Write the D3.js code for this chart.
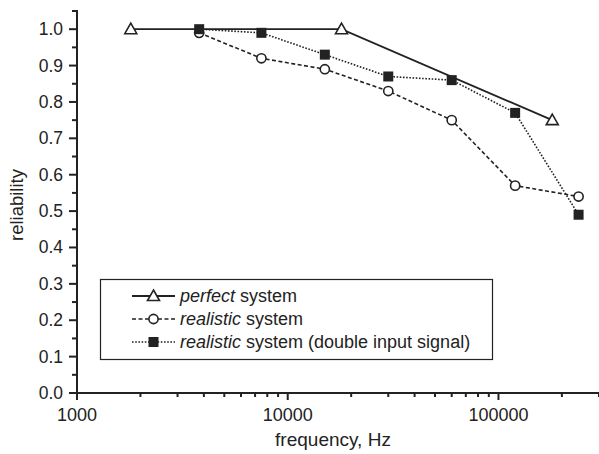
<!DOCTYPE html>
<html>
<head>
<meta charset="utf-8">
<script src="https://cdn.jsdelivr.net/npm/d3@7"></script>
<style>
  body { margin: 0; background: #fff; }
  svg { font-family: "Liberation Sans", Arial, sans-serif; }
</style>
</head>
<body>
<svg id="chart" width="599" height="454"></svg>
<script>
"use strict";

// data
var perfectFreq = [1800, 18000, 180000];
var perfectRel = [1.0, 1.0, 0.75];

var realFreq = [3800, 7500, 15000, 30000, 60000, 120000, 240000];
var realRel = [0.99, 0.92, 0.89, 0.83, 0.75, 0.57, 0.54];

var doubleFreq = [3800, 7500, 15000, 30000, 60000, 120000, 240000];
var doubleRel = [1.0, 0.99, 0.93, 0.87, 0.86, 0.77, 0.49];

var xMajorTicks = [1000, 10000, 100000];
var yMajorTicks = [0.0, 0.1, 0.2, 0.3, 0.4, 0.5, 0.6, 0.7, 0.8, 0.9, 1.0];

var legendLabels = [
    {em: 'perfect', rest: ' system'},
    {em: 'realistic', rest: ' system'},
    {em: 'realistic', rest: ' system (double input signal)'}
];

var ink = '#222';
var svg = d3.select('#chart');

var x = d3.scaleLog().domain([1000, 300000]).range([77, 599]);
var y = d3.scaleLinear().domain([0, 1.05]).range([393, 11]);

// minor ticks
var xMinor = [];
[1000, 10000, 100000].forEach(function(d) {
    for (var k = 2; k <= 9; k++) {
        if (d * k <= 300000) xMinor.push(d * k);
    }
});
var yMinor = d3.range(0, 11).map(function(i) { return i / 10 + 0.05; });

var axes = svg.append('g').attr('stroke', ink).attr('stroke-width', 2);

axes.append('line').attr('x1', 77).attr('x2', 599).attr('y1', 393).attr('y2', 393);
axes.append('line').attr('x1', 77).attr('x2', 77).attr('y1', 393).attr('y2', 10);

axes.selectAll('.xmaj').data(xMajorTicks).enter().append('line')
    .attr('x1', x).attr('x2', x).attr('y1', 393).attr('y2', 400);
axes.selectAll('.xmin').data(xMinor).enter().append('line')
    .attr('x1', x).attr('x2', x).attr('y1', 393).attr('y2', 397);
axes.selectAll('.ymaj').data(yMajorTicks).enter().append('line')
    .attr('x1', 69).attr('x2', 77).attr('y1', y).attr('y2', y);
axes.selectAll('.ymin').data(yMinor).enter().append('line')
    .attr('x1', 72).attr('x2', 77).attr('y1', y).attr('y2', y);

svg.append('g').selectAll('text').data(xMajorTicks).enter().append('text')
    .attr('x', x).attr('y', 421)
    .attr('text-anchor', 'middle')
    .attr('font-size', 18).attr('fill', ink)
    .text(function(d) { return d; });

svg.append('g').selectAll('text').data(yMajorTicks).enter().append('text')
    .attr('x', 63).attr('y', function(d) { return y(d) + 6; })
    .attr('text-anchor', 'end')
    .attr('font-size', 17.5).attr('fill', ink)
    .text(function(d) { return d.toFixed(1); });

svg.append('text')
    .attr('x', 333).attr('y', 446)
    .attr('text-anchor', 'middle')
    .attr('font-size', 19).attr('fill', ink)
    .text('frequency, Hz');

svg.append('text')
    .attr('transform', 'translate(23,205) rotate(-90)')
    .attr('text-anchor', 'middle')
    .attr('font-size', 18.5).attr('fill', ink)
    .text('reliability');

// series
var series = [
    {freq: perfectFreq, rel: perfectRel, dash: null, width: 1.8, marker: 'triangle'},
    {freq: realFreq, rel: realRel, dash: '4,2.5', width: 1.6, marker: 'circle'},
    {freq: doubleFreq, rel: doubleRel, dash: '1.6,1.6', width: 1.6, marker: 'square'}
];

var line = d3.line()
    .x(function(d) { return x(d[0]); })
    .y(function(d) { return y(d[1]); });

function drawMarker(g, type, cx, cy) {
    if (type === 'triangle') {
        g.append('path')
            .attr('d', 'M' + cx + ',' + (cy - 6) + 'L' + (cx + 6) + ',' + (cy + 4.5) + 'L' + (cx - 6) + ',' + (cy + 4.5) + 'Z')
            .attr('fill', '#fff').attr('stroke', ink).attr('stroke-width', 1.6);
    } else if (type === 'circle') {
        g.append('circle').attr('cx', cx).attr('cy', cy).attr('r', 4.6)
            .attr('fill', '#fff').attr('stroke', ink).attr('stroke-width', 1.6);
    } else {
        g.append('rect').attr('x', cx - 5).attr('y', cy - 5).attr('width', 10).attr('height', 10)
            .attr('fill', ink);
    }
}

series.forEach(function(s) {
    var pts = s.freq.map(function(f, i) { return [f, s.rel[i]]; });
    svg.append('path')
        .datum(pts)
        .attr('d', line)
        .attr('fill', 'none')
        .attr('stroke', ink)
        .attr('stroke-width', s.width)
        .attr('stroke-dasharray', s.dash);
});

series.forEach(function(s) {
    var g = svg.append('g');
    s.freq.forEach(function(f, i) {
        drawMarker(g, s.marker, x(f), y(s.rel[i]));
    });
});

// legend
var legend = svg.append('g');
legend.append('rect')
    .attr('x', 100.5).attr('y', 279.5).attr('width', 392).attr('height', 80)
    .attr('fill', '#fff').attr('stroke', ink).attr('stroke-width', 1.2);

var rowY = [296, 319, 342];
series.forEach(function(s, i) {
    legend.append('line')
        .attr('x1', 132).attr('x2', 175).attr('y1', rowY[i]).attr('y2', rowY[i])
        .attr('stroke', ink).attr('stroke-width', s.width)
        .attr('stroke-dasharray', s.dash);
    drawMarker(legend, s.marker, 153.5, rowY[i]);
    var t = legend.append('text')
        .attr('x', 180).attr('y', rowY[i] + 6)
        .attr('font-size', 18).attr('fill', ink);
    t.append('tspan').attr('font-style', 'italic').text(legendLabels[i].em);
    t.append('tspan').text(legendLabels[i].rest);
});
</script>
</body>
</html>
